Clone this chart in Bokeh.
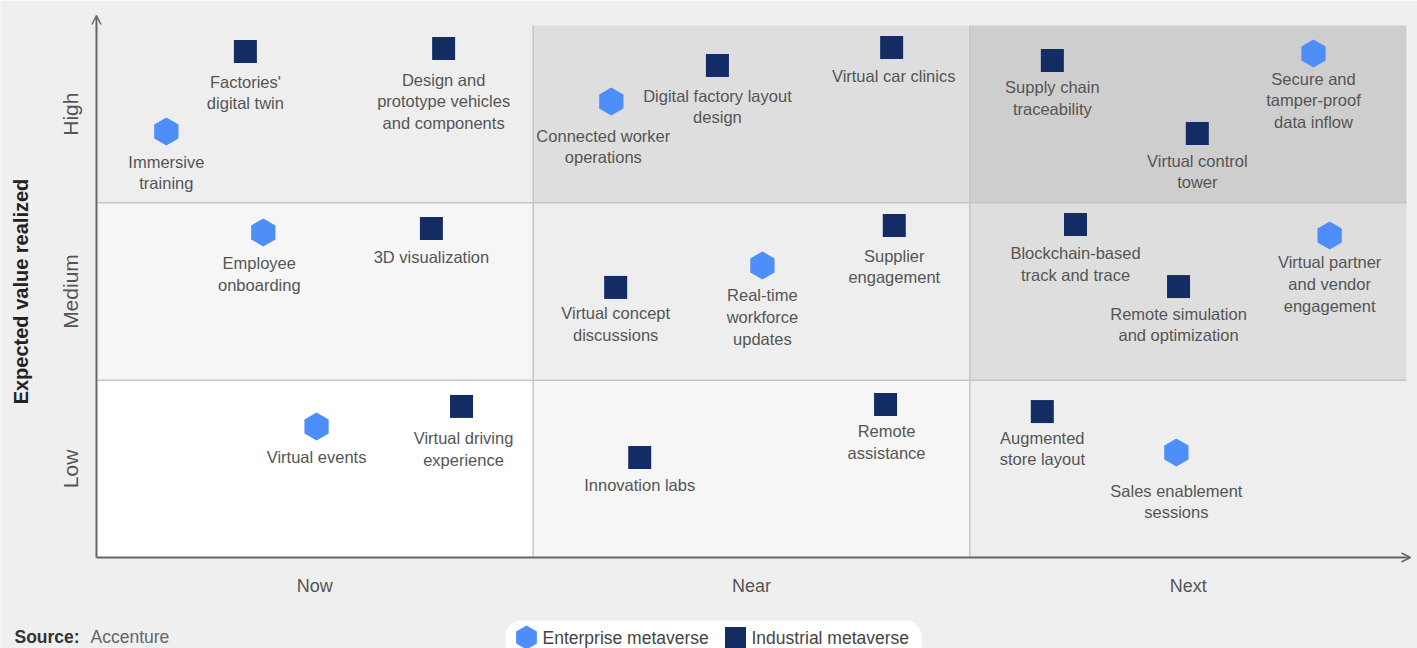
import math
from bokeh.plotting import figure
from bokeh.models import (ColumnDataSource, Range1d, LinearAxis, FixedTicker,
                          Arrow, OpenHead, BoxAnnotation, Label)
from bokeh.core.properties import value
from bokeh.embed import file_html
from bokeh.resources import INLINE

# ---------------- data ----------------
timeline = ["Now", "Near", "Next"]
value_levels = ["Low", "Medium", "High"]

# cell shading: index = timeline position + value level position
cell_shades = ["#ffffff", "#f6f6f6", "#eeeeee", "#dedede", "#cecece"]

industrial_names = [
    "Factories'\ndigital twin",
    "Design and\nprototype vehicles\nand components",
    "Digital factory layout\ndesign",
    "Virtual car clinics",
    "Supply chain\ntraceability",
    "Virtual control\ntower",
    "3D visualization",
    "Supplier\nengagement",
    "Virtual concept\ndiscussions",
    "Blockchain-based\ntrack and trace",
    "Remote simulation\nand optimization",
    "Virtual driving\nexperience",
    "Innovation labs",
    "Remote\nassistance",
    "Augmented\nstore layout",
]
industrial_x = [0.341, 0.795, 1.422, 1.821, 2.189, 2.521, 0.767, 1.827, 1.189,
                2.242, 2.478, 0.836, 1.244, 1.807, 2.166]
industrial_y = [2.853, 2.870, 2.774, 2.876, 2.803, 2.391, 1.855, 1.872, 1.523,
                1.878, 1.528, 0.852, 0.564, 0.863, 0.823]

enterprise_names = [
    "Immersive\ntraining",
    "Connected worker\noperations",
    "Secure and\ntamper-proof\ndata inflow",
    "Employee\nonboarding",
    "Real-time\nworkforce\nupdates",
    "Virtual partner\nand vendor\nengagement",
    "Virtual events",
    "Sales enablement\nsessions",
]
enterprise_x = [0.160, 1.179, 2.787, 0.382, 1.525, 2.824, 0.504, 2.473]
enterprise_y = [2.402, 2.571, 2.842, 1.833, 1.647, 1.816, 0.739, 0.592]

series_names = ["Enterprise metaverse", "Industrial metaverse"]
axis_title = "Expected value realized"

# ---------------- styling / layout ----------------
FIG_W, FIG_H = 1417, 648
X_START, X_END = -0.2198, 3.0252
Y_START, Y_END = -0.513, 3.141
FONT = "Liberation Sans"
TEXT_COLOR = "#555555"
BG = "#efefef"
BLUE = "#4d8ef9"
NAVY = "#142c64"
AXIS_COLOR = "#666666"

# label placement nudges (screen pixels), aligned with the name lists above
industrial_label_dy = [21, 22, 21, 20, 18, 18, 19, 21, 17, 20, 18, 23, 18, 18, 17]
industrial_label_dx = [0, 0, 0, 2, 0, 0, 0, 0, 0, 0, 0, 2, 0, 1, 0]
enterprise_label_dy = [21, 25, 16, 22, 21, 18, 22, 29]
enterprise_label_dx = [0, -8, 0, -4, 0, 0, 0, 0]


def px_to_x(px):
    return X_START + px / FIG_W * (X_END - X_START)


def py_to_y(py):
    return Y_END - py / FIG_H * (Y_END - Y_START)


p = figure(width=FIG_W, height=FIG_H, output_backend="svg", toolbar_location=None,
           x_range=Range1d(X_START, X_END), y_range=Range1d(Y_START, Y_END),
           x_axis_type=None, y_axis_type=None, min_border=0,
           background_fill_color=BG, border_fill_color=BG, outline_line_color=None)
p.grid.visible = False

# cells
n_t, n_v = len(timeline), len(value_levels)
cl, cr, cb, ct, cc = [], [], [], [], []
for i in range(n_t):
    for j in range(n_v):
        cl.append(i); cr.append(i + 1); cb.append(j); ct.append(j + 1)
        cc.append(cell_shades[i + j])
p.quad(left=cl, right=cr, bottom=cb, top=ct, fill_color=cc, line_color=None)

# inner grid lines
seg_x0 = [k for k in range(1, n_t)] + [0 for k in range(1, n_v)]
seg_x1 = [k for k in range(1, n_t)] + [n_t for k in range(1, n_v)]
seg_y0 = [0 for k in range(1, n_t)] + [k for k in range(1, n_v)]
seg_y1 = [n_v for k in range(1, n_t)] + [k for k in range(1, n_v)]
p.segment(x0=seg_x0, y0=seg_y0, x1=seg_x1, y1=seg_y1, line_color="#c6c6c6", line_width=1.5)

# axis arrows
p.add_layout(Arrow(end=OpenHead(size=9, line_color=AXIS_COLOR, line_width=1.5),
                   x_start=0, y_start=0, x_end=0, y_end=py_to_y(15),
                   line_color=AXIS_COLOR, line_width=2))
p.add_layout(Arrow(end=OpenHead(size=9, line_color=AXIS_COLOR, line_width=1.5),
                   x_start=0, y_start=0, x_end=px_to_x(1410), y_end=0,
                   line_color=AXIS_COLOR, line_width=2))

# axes with category tick labels
xaxis = LinearAxis(fixed_location=0,
                   ticker=FixedTicker(ticks=[i + 0.5 for i in range(n_t)]),
                   major_label_overrides={i + 0.5: t for i, t in enumerate(timeline)},
                   axis_line_color=None, major_tick_line_color=None,
                   minor_tick_line_color=None, major_label_standoff=12,
                   major_label_text_font=FONT, major_label_text_font_size="18px",
                   major_label_text_color=TEXT_COLOR)
p.add_layout(xaxis, "below")

yaxis = LinearAxis(fixed_location=0,
                   ticker=FixedTicker(ticks=[j + 0.5 for j in range(n_v)]),
                   major_label_overrides={j + 0.5: v for j, v in enumerate(value_levels)},
                   major_label_orientation="parallel",
                   axis_line_color=None, major_tick_line_color=None,
                   minor_tick_line_color=None, major_label_standoff=8,
                   major_label_text_font=FONT, major_label_text_font_size="21px",
                   major_label_text_color=TEXT_COLOR)
p.add_layout(yaxis, "left")

p.add_layout(Label(x=px_to_x(20), y=n_v / 2, text=axis_title, angle=math.pi / 2,
                   text_align="center", text_baseline="middle",
                   text_font=FONT, text_font_size="20px", text_font_style="bold",
                   text_color="#222222"))

# points
ind_src = ColumnDataSource(dict(x=industrial_x, y=industrial_y, name=industrial_names,
                                dx=industrial_label_dx, dy=industrial_label_dy))
ent_src = ColumnDataSource(dict(x=enterprise_x, y=enterprise_y, name=enterprise_names,
                                dx=enterprise_label_dx, dy=enterprise_label_dy))

p.scatter("x", "y", source=ent_src, marker="hex", size=28, angle=math.pi / 6,
          fill_color=BLUE, line_color=None)
p.scatter("x", "y", source=ind_src, marker="square", size=23,
          fill_color=NAVY, line_color=None)

text_kw = dict(text_align="center", text_baseline="top", text_font=value(FONT),
               text_font_size="16.5px", text_color=TEXT_COLOR, text_line_height=1.2)
p.text("x", "y", text="name", source=ind_src, x_offset="dx", y_offset="dy", **text_kw)
p.text("x", "y", text="name", source=ent_src, x_offset="dx", y_offset="dy", **text_kw)

# legend (manual, rounded white pill)
p.add_layout(BoxAnnotation(left=px_to_x(505), right=px_to_x(921),
                           top=py_to_y(620), bottom=py_to_y(680),
                           fill_color="white", fill_alpha=1, line_color=None,
                           border_radius=16, level="underlay"))
leg_cy = py_to_y(637)
leg_src_e = ColumnDataSource(dict(x=[px_to_x(526)], y=[leg_cy], name=[series_names[0]]))
leg_src_i = ColumnDataSource(dict(x=[px_to_x(735)], y=[leg_cy], name=[series_names[1]]))
p.scatter("x", "y", source=leg_src_e, marker="hex", size=24, angle=math.pi / 6,
          fill_color=BLUE, line_color=None)
p.scatter("x", "y", source=leg_src_i, marker="square", size=21,
          fill_color=NAVY, line_color=None)
leg_text_kw = dict(text_align="left", text_baseline="middle", text_font=value(FONT),
                   text_font_size="17.5px", text_color="#444444")
p.text("x", "y", text="name", source=leg_src_e, x_offset=16, **leg_text_kw)
p.text("x", "y", text="name", source=leg_src_i, x_offset=16, **leg_text_kw)

# source note
p.add_layout(Label(x=14, y=22, x_units="screen", y_units="screen", text="Source:",
                   text_font=FONT, text_font_size="17.5px", text_font_style="bold",
                   text_color="#333333", text_baseline="top"))
p.add_layout(Label(x=90, y=22, x_units="screen", y_units="screen", text="Accenture",
                   text_font=FONT, text_font_size="17.5px",
                   text_color="#666666", text_baseline="top"))

open("out.html", "w").write(file_html(p, INLINE))
